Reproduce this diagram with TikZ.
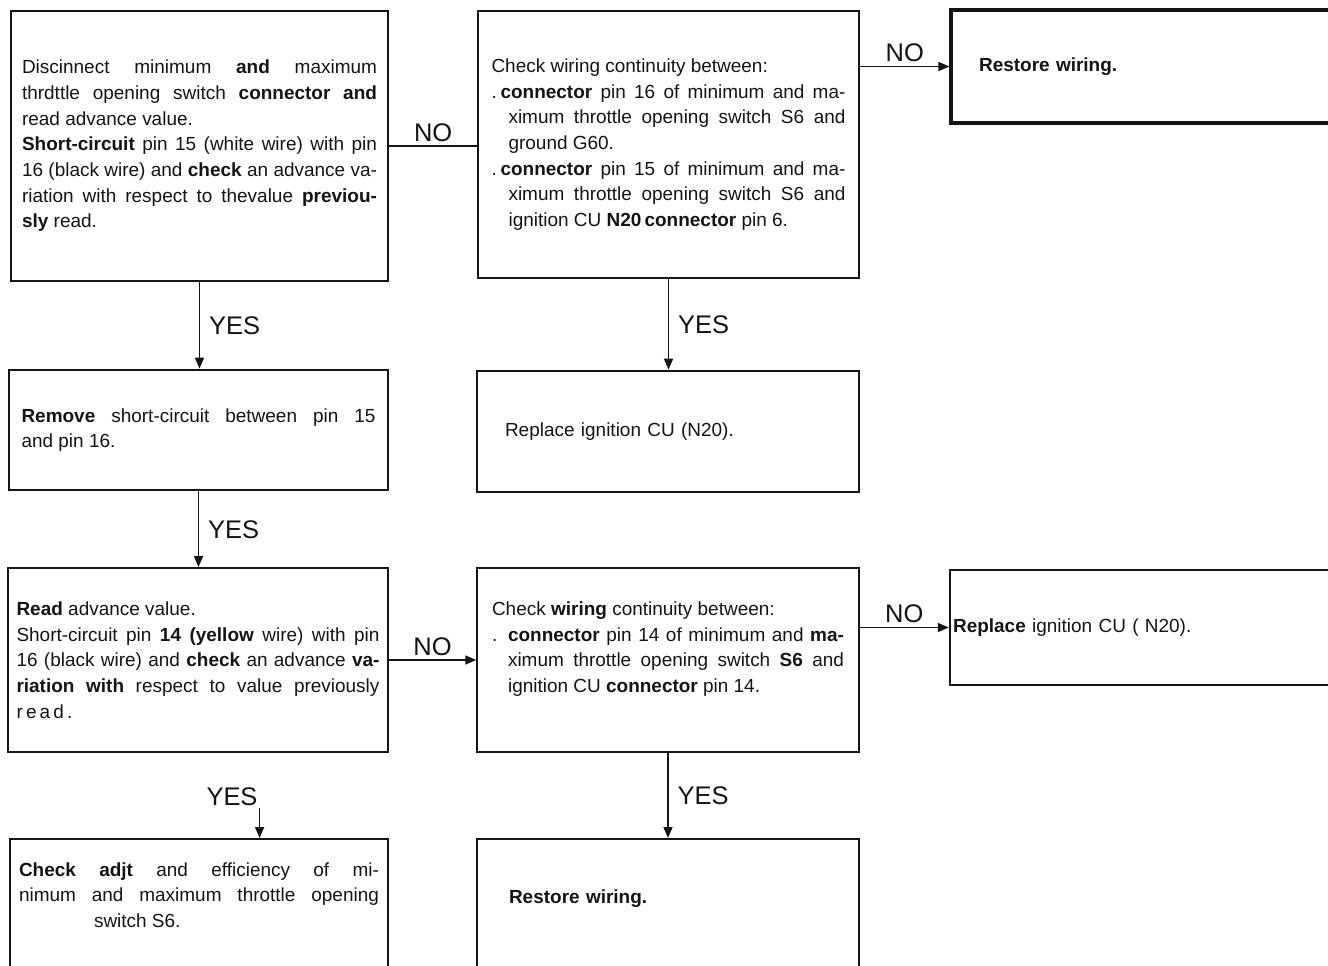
\documentclass[tikz,border=0pt]{standalone}
\usepackage{fontspec}
\setmainfont{Liberation Sans}
\usetikzlibrary{arrows.meta}
\definecolor{scanink}{RGB}{20,20,20}

\begin{document}
\begin{tikzpicture}[x=0.02cm, y=-0.02cm,
  stepbox/.style={rectangle, draw=scanink, line width=1.2pt, inner xsep=0pt, inner ysep=0pt, align=justify, text=scanink, font=\fontsize{10.8}{14.6}\selectfont},
  answer/.style={font=\fontsize{14.5}{16}\selectfont, text=scanink, inner sep=1pt},
  flowarrow/.style={-{Triangle[length=2.2mm,width=1.8mm]}, line width=0.9pt, color=scanink},
  flowline/.style={line width=0.9pt, color=scanink}
]
\path[use as bounding box, clip] (0,0) rectangle (1328,965);

% Top row: first check, wiring check, restore
\node[stepbox, line width=1.6pt, minimum width=7.54cm, minimum height=5.4cm, text width=7.1cm] (disc) at (199.5,146) {
Discinnect minimum \textbf{and} maximum\linebreak
thrdttle opening switch \textbf{connector and}\linebreak
read advance value.\par
\textbf{Short-circuit} pin 15 (white wire) with pin\linebreak
16 (black wire) and \textbf{check} an advance va-\linebreak
riation with respect to thevalue \textbf{previou-}\linebreak
\textbf{sly} read.
};

\node[stepbox, minimum width=7.62cm, minimum height=5.34cm, text width=7.08cm] (chkgnd) at (668.5,144.5) {
Check wiring continuity between:\par
\hangindent=0.34cm\hangafter=1\makebox[0.18cm][l]{.}\textbf{connector} pin 16 of minimum and ma-\linebreak
ximum throttle opening switch S6 and\linebreak
ground G60.\par
\hangindent=0.34cm\hangafter=1\makebox[0.18cm][l]{.}\textbf{connector} pin 15 of minimum and ma-\linebreak
ximum throttle opening switch S6 and\linebreak
ignition CU \textbf{N20\,connector} pin 6.\par
};

\node[stepbox, line width=1.8pt, align=left, minimum width=8.98cm, minimum height=2.26cm, text width=7.86cm] (restoreA) at (1175.5,66.5) {\textbf{Restore wiring.}};

% Middle row
\node[stepbox, line width=1.6pt, minimum width=7.58cm, minimum height=2.4cm, text width=7.08cm] (rmshort) at (198.5,430) {
\textbf{Remove} short-circuit between pin 15\linebreak
and pin 16.
};

\node[stepbox, line width=1.6pt, align=left, minimum width=7.64cm, minimum height=2.42cm, text width=6.52cm] (replcuA) at (668,431.5) {Replace ignition CU (N20).};

% Second check row
\node[stepbox, line width=1.1pt, minimum width=7.6cm, minimum height=3.68cm, text width=7.26cm] (readadv) at (198,660) {
\textbf{Read} advance value.\par
Short-circuit pin \textbf{14 (yellow} wire) with pin\linebreak
16 (black wire) and \textbf{check} an advance \textbf{va-}\linebreak
\textbf{riation with} respect to value previously\linebreak
r\,e\,a\,d\,.
};

\node[stepbox, line width=0.9pt, minimum width=7.64cm, minimum height=3.68cm, text width=7.04cm] (chkcu) at (668,660) {
Check \textbf{wiring} continuity between:\par
\hangindent=0.32cm\hangafter=1\makebox[0.32cm][l]{.}\textbf{connector} pin 14 of minimum and \textbf{ma-}\linebreak
ximum throttle opening switch \textbf{S6} and\linebreak
ignition CU \textbf{connector} pin 14.\par
\mbox{}
};

\node[stepbox, line width=1.4pt, align=left, minimum width=9cm, minimum height=2.3cm, text width=8.88cm] (replcuB) at (1175,627.5) {\textbf{Replace} ignition CU ( N20).};

% Bottom row (cut by the page edge)
\node[stepbox, line width=1.4pt, anchor=north, minimum width=7.56cm, text width=7.2cm, text height=0.74cm, text depth=3cm] (adjust) at (199,838) {
\textbf{Check adjt} and efficiency of mi-\linebreak
nimum and maximum throttle opening\linebreak
\hspace*{1.5cm}switch S6.
};

\node[stepbox, line width=0.9pt, align=left, anchor=north, minimum width=7.64cm, text width=6.36cm, text height=1.3cm, text depth=3cm] (restoreB) at (668,838) {\textbf{Restore wiring.}};

% Connectors
\draw[flowline] (disc.east) -- (disc.east -| chkgnd.west) node[midway, above=1pt, answer]{NO};
\draw[flowarrow] (chkgnd.east |- restoreA.west) -- (restoreA.west) node[midway, above=1pt, answer]{NO};
\draw[flowarrow] (disc.south) -- (disc.south |- rmshort.north) node[midway, right=4pt, answer]{YES};
\draw[flowarrow] (chkgnd.south) -- (chkgnd.south |- replcuA.north) node[midway, right=4pt, answer]{YES};
\draw[flowarrow] (rmshort.south) -- (rmshort.south |- readadv.north) node[midway, right=4pt, answer]{YES};
\draw[flowarrow] (readadv.east) -- (chkcu.west) node[midway, above=1pt, answer]{NO};
\draw[flowarrow] (chkcu.east |- replcuB.west) -- (replcuB.west) node[midway, above=1pt, answer]{NO};
\draw[flowarrow] (chkcu.south) -- (chkcu.south |- restoreB.north) node[midway, right=4pt, answer]{YES};
\node[answer] (yesadj) at (232,797) {YES};
\draw[flowarrow] (yesadj.south east) -- (yesadj.south east |- adjust.north);

\end{tikzpicture}
\end{document}
